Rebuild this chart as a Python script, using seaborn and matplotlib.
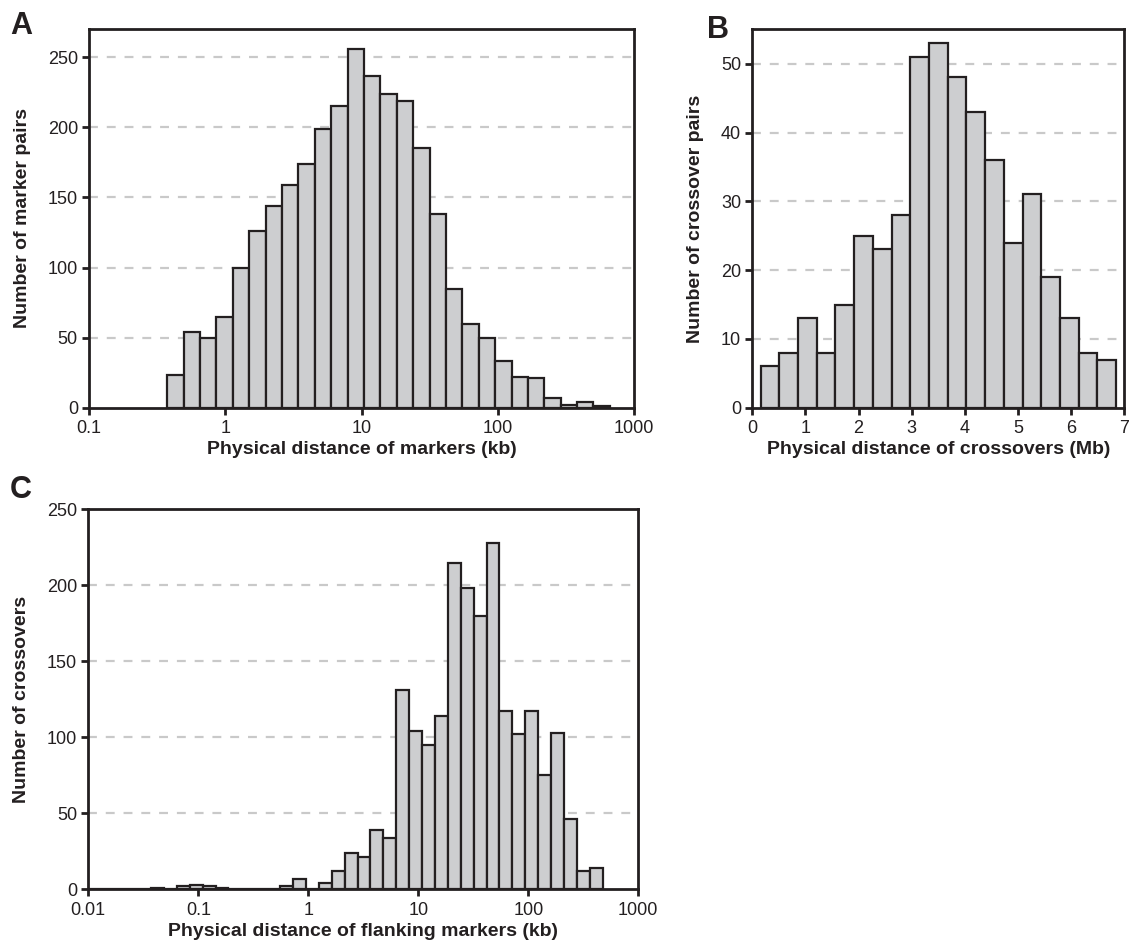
import numpy as np
import pandas as pd
import matplotlib
matplotlib.use("Agg")
import matplotlib.pyplot as plt
import seaborn as sns
from matplotlib.ticker import FixedLocator, FuncFormatter, NullLocator

# ---------------- data ----------------
# Panel A: marker-pair distances (kb), log bins
a_counts = [23, 54, 50, 65, 100, 126, 144, 159, 174, 199, 215, 256, 237,
            224, 219, 185, 138, 85, 60, 50, 33, 22, 21, 7, 2, 4, 1]
a_log_start, a_log_width = -0.4253, 0.1203

# Panel B: crossover-pair distances (Mb), linear bins
b_counts = [6, 8, 13, 8, 15, 25, 23, 28, 51, 53, 48, 43, 36, 24, 31, 19, 13, 8, 7]
b_start, b_width = 0.157, 0.352

# Panel C: flanking marker distances (kb), log bins
c_counts = [0, 0, 0, 0, 0, 1, 0, 2, 3, 2, 1, 0, 0, 0, 0, 2, 7, 0, 4,
            12, 24, 21, 39, 34, 131, 104, 95, 114, 215, 198, 180, 228,
            117, 102, 117, 75, 103, 46, 12, 14]
c_log_start, c_log_width = 0.2127 - 19 * 0.11732, 0.11732

a_xticks = [0.1, 1, 10, 100, 1000]
b_xticks = [0, 1, 2, 3, 4, 5, 6, 7]
c_xticks = [0.01, 0.1, 1, 10, 100, 1000]

a_yticks = [0, 50, 100, 150, 200, 250]
b_yticks = [0, 10, 20, 30, 40, 50]
c_yticks = [0, 50, 100, 150, 200, 250]

labels = {
    "A": ("Physical distance of markers (kb)", "Number of marker pairs"),
    "B": ("Physical distance of crossovers (Mb)", "Number of crossover pairs"),
    "C": ("Physical distance of flanking markers (kb)", "Number of crossovers"),
}

# ---------------- style ----------------
sns.set_style("ticks")
plt.rcParams["font.family"] = ["Liberation Sans", "DejaVu Sans"]
INK = "#231f20"
BAR = "#cdced0"
GRID = "#c9c9c9"

fig = plt.figure(figsize=(11.29, 9.41), dpi=100)
W, H = 1129, 941


def add_axes(left, top, right, bottom):
    return fig.add_axes([left / W, 1 - bottom / H, (right - left) / W, (bottom - top) / H])


axA = add_axes(89, 29.3, 634, 407.7)
axB = add_axes(752.3, 29.3, 1124.3, 407.7)
axC = add_axes(88.3, 509.3, 638.3, 889.3)


def log_hist(ax, counts, start, width):
    n = len(counts)
    log_edges = start + width * np.arange(n + 1)
    centers = 10 ** ((log_edges[:-1] + log_edges[1:]) / 2)
    df = pd.DataFrame({"x": centers, "w": np.asarray(counts, float)})
    sns.histplot(data=df, x="x", weights="w", binwidth=width,
                 binrange=(log_edges[0], log_edges[-1]), log_scale=True,
                 ax=ax, color=BAR, alpha=1, edgecolor=INK, linewidth=1.6)


def lin_hist(ax, counts, start, width):
    n = len(counts)
    edges = start + width * np.arange(n + 1)
    centers = (edges[:-1] + edges[1:]) / 2
    df = pd.DataFrame({"x": centers, "w": np.asarray(counts, float)})
    sns.histplot(data=df, x="x", weights="w", binwidth=width,
                 binrange=(edges[0], edges[-1]), ax=ax,
                 color=BAR, alpha=1, edgecolor=INK, linewidth=1.6)


log_hist(axA, a_counts, a_log_start, a_log_width)
lin_hist(axB, b_counts, b_start, b_width)
log_hist(axC, c_counts, c_log_start, c_log_width)

fmt = FuncFormatter(lambda v, p: f"{v:g}")

setup = [
    (axA, a_xticks, a_yticks, (0.1, 1000), (0, 270), "A"),
    (axB, b_xticks, b_yticks, (0, 7), (0, 55), "B"),
    (axC, c_xticks, c_yticks, (0.01, 1000), (0, 250), "C"),
]
for ax, xt, yt, xl, yl, key in setup:
    ax.set_xlim(*xl)
    ax.set_ylim(*yl)
    ax.xaxis.set_major_locator(FixedLocator(xt))
    ax.xaxis.set_minor_locator(NullLocator())
    ax.xaxis.set_major_formatter(fmt)
    ax.yaxis.set_major_locator(FixedLocator(yt))
    ax.yaxis.set_major_formatter(fmt)
    ax.set_axisbelow(True)
    for v in yt[1:]:
        ax.axhline(v, color=GRID, lw=1.6, ls=(0, (4, 4)), zorder=0)
    for s in ax.spines.values():
        s.set_visible(True)
        s.set_linewidth(2.0)
        s.set_color(INK)
    ax.tick_params(axis="both", direction="out", length=5, width=2, color=INK,
                   labelsize=13, labelcolor=INK, pad=3)
    ax.tick_params(axis="x", pad=4)
    xlab, ylab = labels[key]
    ax.set_xlabel(xlab, fontsize=14, fontweight="bold", color=INK, labelpad=3)
    ax.set_ylabel(ylab, fontsize=14, fontweight="bold", color=INK, labelpad=12)

fig.text(10 / W, 1 - 34 / H, "A", fontsize=22, fontweight="bold", color=INK)
fig.text(707 / W, 1 - 38 / H, "B", fontsize=22, fontweight="bold", color=INK)
fig.text(10 / W, 1 - 498 / H, "C", fontsize=22, fontweight="bold", color=INK)

fig.savefig("out.png", dpi=100, facecolor="white")
